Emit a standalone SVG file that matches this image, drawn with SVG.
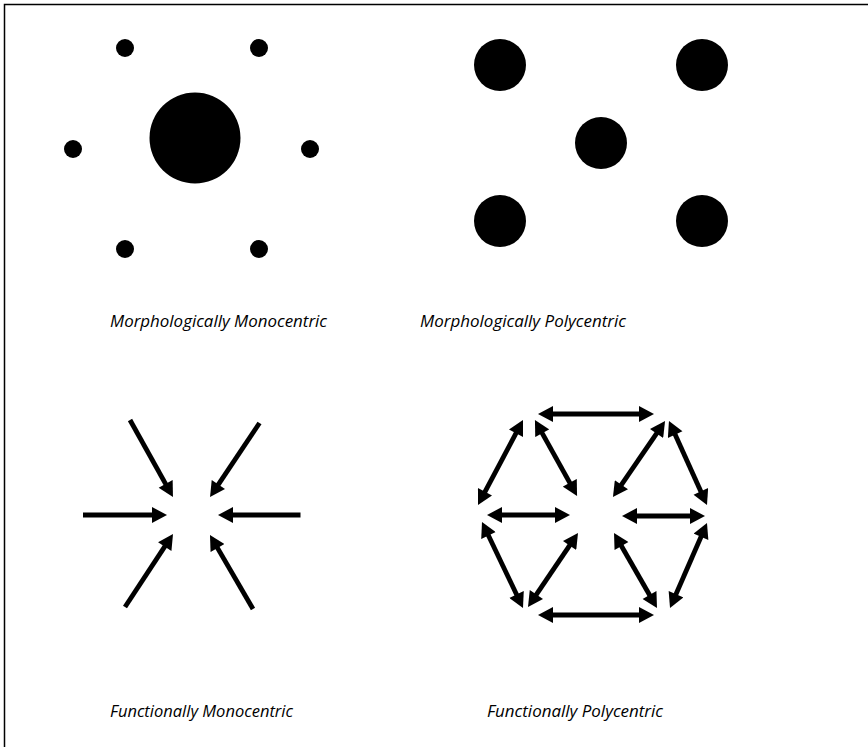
<svg xmlns="http://www.w3.org/2000/svg" width="868" height="747" viewBox="0 0 868 747">
<defs>
<style>
.dot{fill:#000}
.lbl{font-family:"Open Sans","Liberation Sans",sans-serif;font-style:italic;font-size:16px;fill:#000}
.arr{stroke:#000;stroke-width:4.8;fill:none}
.one{marker-end:url(#head)}
.two{marker-start:url(#head);marker-end:url(#head)}
</style>
<marker id="head" markerUnits="userSpaceOnUse" markerWidth="16" markerHeight="16" viewBox="0 0 15 16" refX="5" refY="8" orient="auto-start-reverse">
<path d="M0,0 L15,8 L0,16 z" fill="#000"/>
</marker>
</defs>
<rect width="868" height="747" fill="#fff"/>
<path d="M4.5,747 V4.5 H868" stroke="#000" stroke-width="1.5" fill="none"/>

<g id="morph-mono">
<circle class="dot" cx="195" cy="138" r="45.5"/>
<circle class="dot" cx="125" cy="48" r="9"/>
<circle class="dot" cx="259" cy="48" r="9"/>
<circle class="dot" cx="73" cy="149" r="9"/>
<circle class="dot" cx="310" cy="149" r="9"/>
<circle class="dot" cx="125" cy="249" r="9"/>
<circle class="dot" cx="259" cy="249" r="9"/>
</g>
<g id="morph-poly">
<circle class="dot" cx="500" cy="65" r="26"/>
<circle class="dot" cx="702" cy="65" r="26"/>
<circle class="dot" cx="601" cy="143" r="26"/>
<circle class="dot" cx="500" cy="221" r="26"/>
<circle class="dot" cx="702" cy="221" r="26"/>
</g>

<g id="connectors">
<g id="func-mono">
<line class="arr one" x1="130" y1="420" x2="168.1" y2="488.3"/>
<line class="arr one" x1="259.5" y1="423" x2="215.6" y2="488.7"/>
<line class="arr one" x1="83" y1="515" x2="157" y2="515"/>
<line class="arr one" x1="300.5" y1="515" x2="228" y2="515"/>
<line class="arr one" x1="125" y1="607" x2="167.5" y2="542.4"/>
<line class="arr one" x1="253" y1="609" x2="215" y2="543.6"/>
</g>
<g id="func-poly">
<line class="arr two" x1="548" y1="414" x2="644" y2="414"/>
<line class="arr two" x1="548" y1="615" x2="644" y2="615"/>
<line class="arr two" x1="497" y1="515" x2="560" y2="515"/>
<line class="arr two" x1="632" y1="516" x2="695" y2="516"/>
<line class="arr two" x1="518.3" y1="428.8" x2="482.7" y2="496.2"/>
<line class="arr two" x1="539.8" y1="428.8" x2="572.2" y2="487.2"/>
<line class="arr two" x1="659.4" y1="429.3" x2="618.6" y2="488.8"/>
<line class="arr two" x1="673.1" y1="430.1" x2="702.9" y2="495.9"/>
<line class="arr two" x1="486.3" y1="531" x2="518.7" y2="599"/>
<line class="arr two" x1="572.4" y1="541.3" x2="533.6" y2="598.7"/>
<line class="arr two" x1="619" y1="541.7" x2="652" y2="599.3"/>
<line class="arr two" x1="703" y1="532.2" x2="674" y2="598.8"/>
</g>
</g>

<g id="labels">
<text class="lbl" x="110" y="327" textLength="217" lengthAdjust="spacingAndGlyphs">Morphologically Monocentric</text>
<text class="lbl" x="420" y="327" textLength="206" lengthAdjust="spacingAndGlyphs">Morphologically Polycentric</text>
<text class="lbl" x="110" y="717" textLength="183" lengthAdjust="spacingAndGlyphs">Functionally Monocentric</text>
<text class="lbl" x="487" y="717" textLength="176" lengthAdjust="spacingAndGlyphs">Functionally Polycentric</text>
</g>
</svg>
